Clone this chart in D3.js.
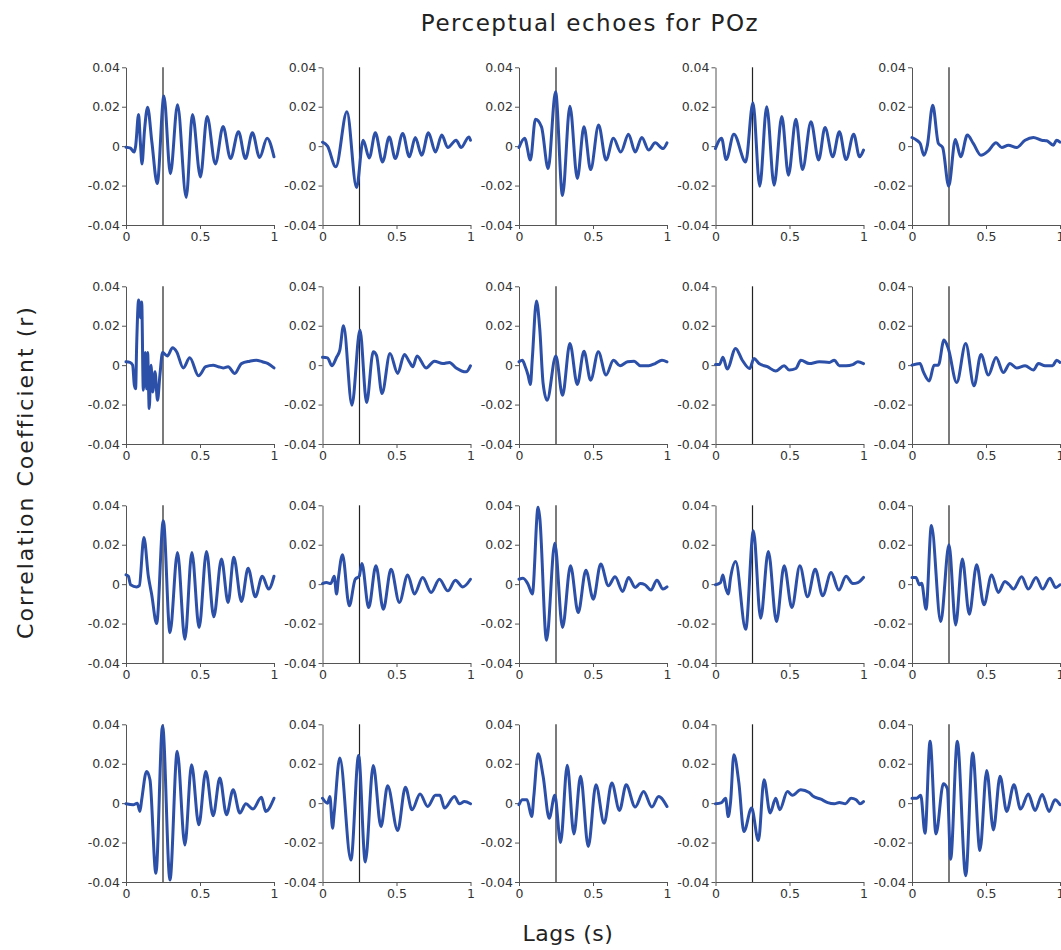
<!DOCTYPE html>
<html><head><meta charset="utf-8">
<script src="https://cdn.jsdelivr.net/npm/d3@7"></script>
<style>body{margin:0;background:#fff} svg{display:block}</style>
</head><body><svg id="c" width="1061" height="950"></svg>
<script>
// ---- data: [lag (s), correlation r] key points per panel (row-major, 4 rows x 5 cols)
const echo01 = [[0,-0.0005],[0.03,-0.001],[0.055,-0.003],[0.065,0.0],[0.085,0.016],[0.097,0.002],[0.108,-0.009],[0.125,0.008],[0.146,0.0197],[0.175,0.002],[0.211,-0.019],[0.256,0.0254],[0.30,-0.014],[0.348,0.021],[0.407,-0.026],[0.449,0.016],[0.503,-0.0156],[0.548,0.015],[0.604,-0.009],[0.656,0.010],[0.706,-0.0063],[0.76,0.0073],[0.807,-0.0063],[0.854,0.0068],[0.903,-0.0058],[0.953,0.004],[1.0,-0.0054]];
const echo02 = [[0,0.002],[0.034,0],[0.09,-0.0105],[0.165,0.0175],[0.23,-0.021],[0.275,0.003],[0.316,-0.006],[0.357,0.0068],[0.406,-0.008],[0.451,0.0047],[0.492,-0.0063],[0.542,0.0064],[0.587,-0.0054],[0.627,0.0044],[0.67,-0.0046],[0.716,0.0068],[0.763,-0.003],[0.806,0.0056],[0.846,-0.0007],[0.903,0.003],[0.937,-0.0007],[0.989,0.0047],[1.0,0.003]];
const echo03 = [[0,-0.0007],[0.038,0.004],[0.077,-0.007],[0.111,0.0136],[0.152,0.0098],[0.197,-0.0114],[0.247,0.0276],[0.294,-0.025],[0.344,0.0203],[0.394,-0.0164],[0.439,0.0098],[0.484,-0.0119],[0.538,0.0107],[0.588,-0.007],[0.638,0.004],[0.688,-0.003],[0.74,0.006],[0.785,-0.003],[0.83,0.0044],[0.876,-0.002],[0.92,0.0017],[0.973,-0.0012],[1.0,0.0017]];
const echo04 = [[0,-0.0012],[0.041,0.004],[0.072,-0.0068],[0.124,0.006],[0.204,-0.008],[0.253,0.022],[0.299,-0.0203],[0.346,0.020],[0.396,-0.0198],[0.448,0.015],[0.493,-0.0147],[0.543,0.0136],[0.588,-0.0119],[0.645,0.0124],[0.697,-0.007],[0.74,0.0095],[0.792,-0.0054],[0.837,0.0073],[0.882,-0.0068],[0.934,0.006],[0.973,-0.0054],[1.0,-0.002]];
const echo05 = [[0,0.0044],[0.032,0.003],[0.055,0.0014],[0.081,-0.0046],[0.104,0.0005],[0.14,0.0208],[0.178,0.0014],[0.207,-0.0007],[0.248,-0.0203],[0.293,0.0034],[0.329,-0.0054],[0.374,0.0056],[0.414,0.0014],[0.466,-0.0046],[0.516,-0.0024],[0.568,0.0017],[0.606,-0.0007],[0.651,0.0005],[0.707,-0.0007],[0.764,0.003],[0.82,0.0044],[0.876,0.003],[0.91,0.0027],[0.955,0.0005],[0.977,0.003],[1.0,0.002]];
const echo06 = [[0,0.0017],[0.027,0.0014],[0.045,0],[0.056,-0.010],[0.065,-0.012],[0.072,0.010],[0.085,0.033],[0.099,0.024],[0.106,0.032],[0.117,-0.0127],[0.13,0.0064],[0.139,-0.012],[0.146,0.0064],[0.157,-0.022],[0.169,0],[0.18,-0.0136],[0.196,-0.0034],[0.213,-0.0178],[0.229,-0.0051],[0.247,0.0064],[0.279,0.0047],[0.315,0.0088],[0.342,0.0068],[0.387,-0.0014],[0.431,0.0037],[0.49,-0.0054],[0.539,-0.0008],[0.589,0],[0.625,-0.0008],[0.656,-0.0014],[0.69,-0.0008],[0.735,-0.0042],[0.78,0.0008],[0.836,0.002],[0.88,0.0025],[0.921,0.0017],[0.96,0.0008],[1.0,-0.0014]];
const echo07 = [[0,0.004],[0.034,0.0037],[0.063,-0.0003],[0.095,0.004],[0.117,0.0076],[0.142,0.020],[0.199,-0.0203],[0.253,0.0178],[0.298,-0.019],[0.343,0.0068],[0.365,0.005],[0.402,-0.0144],[0.456,0.0059],[0.508,-0.0042],[0.553,0.0054],[0.587,0.0017],[0.61,-0.0008],[0.639,0.0047],[0.70,-0.0014],[0.756,0.002],[0.813,0.0008],[0.858,0.0014],[0.903,-0.0014],[0.97,-0.0034],[1.0,-0.0003]];
const echo08 = [[0,0.0017],[0.023,0.0025],[0.04,-0.0003],[0.061,-0.005],[0.077,-0.0098],[0.09,0.0034],[0.118,0.0325],[0.14,0.0186],[0.163,-0.0093],[0.19,-0.0178],[0.249,0.0047],[0.294,-0.0153],[0.344,0.011],[0.394,-0.0098],[0.439,0.0071],[0.484,-0.0076],[0.536,0.0068],[0.588,-0.005],[0.638,0.0025],[0.683,-0.0003],[0.733,0.0017],[0.778,0.002],[0.82,-0.0003],[0.876,-0.0003],[0.92,0.0008],[0.966,0.0025],[1.0,0.0017]];
const echo09 = [[0,0.0003],[0.027,0.0003],[0.05,0.004],[0.079,-0.002],[0.136,0.0085],[0.181,0.0025],[0.231,-0.0017],[0.26,0.0034],[0.294,0.0008],[0.351,-0.0008],[0.407,-0.003],[0.464,-0.0003],[0.498,-0.0025],[0.543,-0.0017],[0.577,0.0025],[0.633,0.0008],[0.701,0.0017],[0.769,0.0014],[0.803,0.0025],[0.837,-0.0003],[0.882,-0.0003],[0.928,0.0003],[0.962,0.0017],[1.0,0.0008]];
const echo10 = [[0,0],[0.054,0.0008],[0.077,-0.0034],[0.117,-0.008],[0.149,0],[0.178,0],[0.216,0.0127],[0.245,0.0085],[0.302,-0.0088],[0.363,0.011],[0.419,-0.0105],[0.466,0.0054],[0.516,-0.005],[0.568,0.0039],[0.617,-0.0037],[0.662,0.0008],[0.707,-0.0014],[0.764,-0.0003],[0.82,-0.0025],[0.854,0.0008],[0.899,-0.0003],[0.95,-0.0003],[0.977,0.0025],[1.0,0.0014]];
const echo11 = [[0,0.0047],[0.016,0.004],[0.031,-0.0003],[0.072,-0.0014],[0.09,-0.0008],[0.121,0.0237],[0.151,0.004],[0.173,-0.005],[0.207,-0.020],[0.252,0.0322],[0.297,-0.0246],[0.348,0.0161],[0.398,-0.028],[0.445,0.0161],[0.494,-0.022],[0.544,0.0166],[0.593,-0.0166],[0.645,0.0127],[0.69,-0.0093],[0.728,0.0136],[0.78,-0.0088],[0.825,0.0081],[0.874,-0.0064],[0.921,0.004],[0.964,-0.0025],[1.0,0.004]];
const echo12 = [[0,0.0003],[0.027,0.0008],[0.056,0.0003],[0.079,0.004],[0.095,-0.005],[0.108,0.0034],[0.135,0.0149],[0.181,-0.011],[0.221,0.0025],[0.248,0.004],[0.266,0.0105],[0.312,-0.0119],[0.361,0.0093],[0.411,-0.0127],[0.463,0.0076],[0.519,-0.0093],[0.576,0.0047],[0.621,-0.005],[0.677,0.0034],[0.734,-0.0042],[0.79,0.0025],[0.847,-0.0034],[0.898,0.002],[0.948,-0.0014],[1.0,0.0025]];
const echo13 = [[0,0.0025],[0.027,0.003],[0.061,0],[0.09,-0.005],[0.129,0.039],[0.14,0.034],[0.186,-0.0285],[0.242,0.0207],[0.294,-0.022],[0.348,0.0093],[0.40,-0.0144],[0.452,0.0071],[0.502,-0.0076],[0.552,0.0102],[0.604,-0.0008],[0.649,0.0037],[0.701,-0.0037],[0.74,0.0034],[0.785,-0.0017],[0.82,0.0003],[0.851,-0.0003],[0.891,-0.003],[0.932,0.002],[0.973,-0.0025],[1.0,-0.0014]];
const echo14 = [[0,-0.0003],[0.034,0.0008],[0.05,0.0047],[0.068,-0.0017],[0.086,-0.005],[0.102,0.0034],[0.136,0.0115],[0.204,-0.0229],[0.256,0.0271],[0.305,-0.0173],[0.357,0.0166],[0.412,-0.019],[0.464,0.0093],[0.516,-0.0119],[0.57,0.0093],[0.622,-0.0064],[0.674,0.0076],[0.724,-0.0059],[0.781,0.0059],[0.833,-0.003],[0.882,0.004],[0.928,0.0003],[0.962,0.0008],[1.0,0.0034]];
const echo15 = [[0,0.0034],[0.027,0.0034],[0.05,-0.0003],[0.065,0.0005],[0.095,-0.0127],[0.131,0.0297],[0.194,-0.019],[0.25,0.020],[0.295,-0.0207],[0.34,0.0127],[0.387,-0.0153],[0.437,0.0098],[0.486,-0.0105],[0.538,0.0047],[0.583,-0.0042],[0.628,0.0014],[0.657,-0.0003],[0.685,-0.0025],[0.741,0.0037],[0.786,-0.0025],[0.838,0.0034],[0.883,-0.0025],[0.932,0.003],[0.971,-0.0017],[1.0,-0.0003]];
const echo16 = [[0,-0.0003],[0.049,-0.0008],[0.076,0],[0.094,-0.0042],[0.106,0.0017],[0.139,0.0161],[0.162,0.0119],[0.202,-0.0356],[0.247,0.0393],[0.297,-0.039],[0.346,0.0263],[0.398,-0.0212],[0.443,0.0195],[0.492,-0.011],[0.539,0.0161],[0.589,-0.0064],[0.634,0.0127],[0.679,-0.0059],[0.724,0.0068],[0.769,-0.005],[0.81,-0.0003],[0.858,-0.003],[0.915,0.003],[0.944,-0.0042],[1.0,0.0025]];
const echo17 = [[0,0.0025],[0.034,0],[0.05,0.0034],[0.068,-0.0127],[0.079,-0.005],[0.117,0.0229],[0.192,-0.0289],[0.244,0.0242],[0.289,-0.0298],[0.343,0.0191],[0.395,-0.0119],[0.44,0.0088],[0.508,-0.0139],[0.56,0.0081],[0.605,-0.0034],[0.659,0.0047],[0.711,-0.0017],[0.763,0.004],[0.794,0.004],[0.824,-0.0025],[0.892,0.0034],[0.925,-0.0003],[0.959,0.0008],[1.0,-0.0003]];
const echo18 = [[0,-0.0008],[0.023,0.0017],[0.054,0.0017],[0.086,-0.0068],[0.1,0.0034],[0.129,0.0251],[0.163,0.0136],[0.204,-0.0076],[0.242,0.004],[0.281,-0.020],[0.326,0.0192],[0.371,-0.0156],[0.416,0.0136],[0.468,-0.022],[0.52,0.0093],[0.575,-0.0102],[0.627,0.0102],[0.679,-0.0037],[0.724,0.0093],[0.785,-0.002],[0.842,0.0059],[0.898,-0.002],[0.943,0.0034],[1.0,-0.0017]];
const echo19 = [[0,-0.0003],[0.041,0.0003],[0.068,0.0025],[0.086,-0.0068],[0.102,0.0008],[0.124,0.0246],[0.158,0.0102],[0.192,-0.0144],[0.244,-0.0025],[0.29,-0.019],[0.328,0.0119],[0.369,-0.005],[0.407,0.0025],[0.434,-0.0034],[0.486,0.0059],[0.52,0.004],[0.576,0.0068],[0.633,0.0054],[0.656,0.0037],[0.712,0.002],[0.758,0.0003],[0.803,-0.0003],[0.837,0.0003],[0.878,-0.0003],[0.916,0.0025],[0.95,0.0017],[0.977,-0.0003],[1.0,0.0008]];
const echo20 = [[0,0.0025],[0.032,0.0025],[0.059,0.004],[0.088,-0.0153],[0.122,0.0314],[0.162,-0.0156],[0.212,0.0098],[0.239,0.0073],[0.261,-0.0284],[0.306,0.0314],[0.363,-0.0368],[0.41,0.0254],[0.459,-0.024],[0.505,0.0166],[0.55,-0.0136],[0.595,0.0136],[0.64,-0.0042],[0.689,0.0093],[0.734,-0.003],[0.786,0.0047],[0.831,-0.0037],[0.88,0.0044],[0.926,-0.0042],[0.966,0.0017],[1.0,-0.0008]];

const yTicks = [-0.04, -0.02, 0, 0.02, 0.04];
const xTicks = [0, 0.5, 1];
const markerLag = 0.25;
const titleText = "Perceptual echoes for POz";
const xLabelText = "Lags (s)";
const yLabelText = "Correlation Coefficient (r)";

const panels = [echo01,echo02,echo03,echo04,echo05,echo06,echo07,echo08,echo09,echo10,
                echo11,echo12,echo13,echo14,echo15,echo16,echo17,echo18,echo19,echo20];

// ---- layout
const svg = d3.select("#c");
const FONT = "'DejaVu Sans', sans-serif";
const nCols = 5, nRows = 4;
const pw = 148, ph = 157.7;
const colPos = d3.scaleLinear().domain([0, nCols - 1]).range([126, 912]);
const rowPos = d3.scaleLinear().domain([0, nRows - 1]).range([67.3, 724.3]);

const x = d3.scaleLinear().domain([0, 1]).range([0, pw]);
const y = d3.scaleLinear().domain([-0.04, 0.04]).range([ph, 0]);
const line = d3.line().x(d => x(d[0])).y(d => y(d[1])).curve(d3.curveMonotoneX);

panels.forEach((data, i) => {
  const c = i % nCols, r = Math.floor(i / nCols);
  const g = svg.append("g").attr("transform", `translate(${colPos(c)},${rowPos(r)})`);

  const ya = g.append("g").call(d3.axisLeft(y).tickValues(yTicks).tickSize(4).tickSizeOuter(0)
      .tickFormat(d => d === 0 ? "0" : d.toFixed(2)));
  const xa = g.append("g").attr("transform", `translate(0,${ph})`)
      .call(d3.axisBottom(x).tickValues(xTicks).tickSize(4).tickSizeOuter(0).tickFormat(d3.format("")));
  [ya, xa].forEach(a => {
    a.select(".domain").attr("stroke", "#555").attr("stroke-width", 1);
    a.selectAll(".tick line").attr("stroke", "#555");
    a.selectAll(".tick text").attr("fill", "#333").style("font-family", FONT).style("font-size", "12.5px");
  });
  ya.selectAll(".tick text").attr("x", -6);
  xa.selectAll(".tick text").attr("y", 7);

  g.append("line")
    .attr("x1", x(markerLag)).attr("x2", x(markerLag))
    .attr("y1", y(0.04)).attr("y2", y(-0.04))
    .attr("stroke", "#222").attr("stroke-width", 1.2);

  g.append("path").datum(data).attr("d", line)
    .attr("fill", "none").attr("stroke", "#2c4fa8").attr("stroke-width", 3)
    .attr("stroke-linejoin", "round").attr("stroke-linecap", "round");
});

svg.append("text").attr("x", 590).attr("y", 31).attr("text-anchor", "middle")
  .style("font-family", FONT).style("font-size", "23px").style("letter-spacing", "1.5px")
  .attr("fill", "#222").text(titleText);
svg.append("text").attr("x", 568).attr("y", 941).attr("text-anchor", "middle")
  .style("font-family", FONT).style("font-size", "22px").style("letter-spacing", "0.5px")
  .attr("fill", "#222").text(xLabelText);
svg.append("text").attr("transform", "translate(33,472) rotate(-90)").attr("text-anchor", "middle")
  .style("font-family", FONT).style("font-size", "22px").style("letter-spacing", "2px")
  .attr("fill", "#222").text(yLabelText);
</script></body></html>
